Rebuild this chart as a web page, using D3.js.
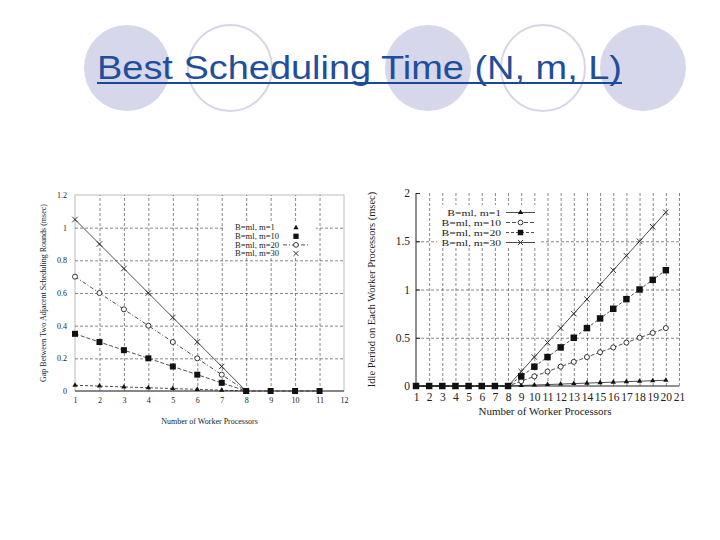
<!DOCTYPE html>
<html>
<head>
<meta charset="utf-8">
<script src="https://cdn.jsdelivr.net/npm/d3@7"></script>
<style>
  body { margin: 0; background: #fff; }
  text { font-family: "Liberation Serif", "DejaVu Serif", serif; fill: #222; }
</style>
</head>
<body>
<svg id="slide" width="720" height="540"></svg>
<script>
// left chart: gap between two adjacent scheduling rounds
const leftProcs = [1, 2, 3, 4, 5, 6, 7, 8, 9, 10, 11];
const leftM1 = [0.035, 0.03, 0.025, 0.02, 0.015, 0.01, 0.005, 0];
const leftM10 = [0.35, 0.3, 0.25, 0.2, 0.15, 0.1, 0.05, 0, 0, 0, 0];
const leftM20 = [0.7, 0.6, 0.5, 0.4, 0.3, 0.2, 0.1, 0];
const leftM30 = [1.05, 0.9, 0.75, 0.6, 0.45, 0.3, 0.15, 0];
const leftXTicks = [1, 2, 3, 4, 5, 6, 7, 8, 9, 10, 11, 12];
const leftYTicks = [0, 0.2, 0.4, 0.6, 0.8, 1, 1.2];

// right chart: idle period on each worker processor
const rightProcs = [1, 2, 3, 4, 5, 6, 7, 8, 9, 10, 11, 12, 13, 14, 15, 16, 17, 18, 19, 20];
const rightM1 = [0, 0, 0, 0, 0, 0, 0, 0, 0.005, 0.01, 0.015, 0.02, 0.025, 0.03, 0.035, 0.04, 0.045, 0.05, 0.055, 0.06];
const rightM10 = [0, 0, 0, 0, 0, 0, 0, 0, 0.05, 0.1, 0.15, 0.2, 0.25, 0.3, 0.35, 0.4, 0.45, 0.5, 0.55, 0.6];
const rightM20 = [0, 0, 0, 0, 0, 0, 0, 0, 0.1, 0.2, 0.3, 0.4, 0.5, 0.6, 0.7, 0.8, 0.9, 1.0, 1.1, 1.2];
const rightM30 = [0, 0, 0, 0, 0, 0, 0, 0, 0.15, 0.3, 0.45, 0.6, 0.75, 0.9, 1.05, 1.2, 1.35, 1.5, 1.65, 1.8];
const rightXTicks = d3.range(1, 22);
const rightYTicks = [0, 0.5, 1, 1.5, 2];

const seriesNames = ["B=ml, m=1", "B=ml, m=10", "B=ml, m=20", "B=ml, m=30"];

const svg = d3.select("#slide");
const numFormat = (d) => String(+d.toFixed(2));

// x marker, drawn as a stroke-only symbol
const symbolCross = {
  draw(context, size) {
    const r = Math.sqrt(size) / 2;
    context.moveTo(-r, -r);
    context.lineTo(r, r);
    context.moveTo(-r, r);
    context.lineTo(r, -r);
  },
};

const markerStyles = {
  triangle: { type: d3.symbolTriangle, fill: "#111", stroke: "none" },
  square: { type: d3.symbolSquare, fill: "#111", stroke: "none" },
  circle: { type: d3.symbolCircle, fill: "#fff", stroke: "#222" },
  cross: { type: symbolCross, fill: "none", stroke: "#222" },
};

// ---------- title band ----------
const circles = [
  { cx: 127, filled: true },
  { cx: 230, filled: false },
  { cx: 428, filled: true },
  { cx: 543, filled: false },
  { cx: 643, filled: true },
];
svg
  .selectAll(".deco")
  .data(circles)
  .join("ellipse")
  .attr("class", "deco")
  .attr("cx", (d) => d.cx)
  .attr("cy", 68)
  .attr("rx", (d) => (d.filled ? 43 : 42))
  .attr("ry", 43)
  .attr("fill", (d) => (d.filled ? "#d7d7ec" : "none"))
  .attr("stroke", (d) => (d.filled ? "none" : "#d5d5e8"))
  .attr("stroke-width", 2);

svg
  .append("text")
  .attr("x", 97)
  .attr("y", 79)
  .attr("textLength", 525)
  .attr("lengthAdjust", "spacingAndGlyphs")
  .style("font-family", "'Liberation Sans', Arial, sans-serif")
  .style("font-size", "34px")
  .style("fill", "#1f4f9c")
  .text("Best Scheduling Time (N, m, L)");

svg
  .append("line")
  .attr("x1", 97)
  .attr("x2", 622)
  .attr("y1", 83)
  .attr("y2", 83)
  .attr("stroke", "#1a4a94")
  .attr("stroke-width", 2);

// ---------- shared helpers ----------
function drawGrid(g, x, y, xVals, yVals) {
  const [x0, x1] = x.range();
  const [y0, y1] = y.range();
  g.append("g")
    .attr("class", "grid")
    .attr("transform", `translate(${x0},0)`)
    .call(d3.axisLeft(y).tickValues(yVals).tickSize(-(x1 - x0)).tickFormat(""));
  g.append("g")
    .attr("class", "grid")
    .attr("transform", `translate(0,${y0})`)
    .call(d3.axisBottom(x).tickValues(xVals).tickSize(-(y0 - y1)).tickFormat(""));
  g.selectAll(".grid .domain").remove();
  g.selectAll(".grid line")
    .attr("stroke", "#555")
    .attr("stroke-width", 0.7)
    .attr("stroke-dasharray", "3,2");
}

function drawSeries(g, x, y, procs, values, dash, marker, size) {
  const pts = values.map((v, i) => [procs[i], v]);
  g.append("path")
    .datum(pts)
    .attr("fill", "none")
    .attr("stroke", "#222")
    .attr("stroke-width", 0.8)
    .attr("stroke-dasharray", dash)
    .attr("d", d3.line().x((d) => x(d[0])).y((d) => y(d[1])));
  const st = markerStyles[marker];
  g.append("g")
    .selectAll("path")
    .data(pts)
    .join("path")
    .attr("transform", (d) => `translate(${x(d[0])},${y(d[1])})`)
    .attr("d", d3.symbol().type(st.type).size(size))
    .attr("fill", st.fill)
    .attr("stroke", st.stroke)
    .attr("stroke-width", 0.9);
}

function drawTickLabels(g, x, y, xVals, yVals, fontSize, xPad, yPad) {
  const [y0] = y.range();
  const [x0] = x.range();
  const ax = g
    .append("g")
    .attr("transform", `translate(0,${y0})`)
    .call(d3.axisBottom(x).tickValues(xVals).tickSize(0).tickPadding(xPad).tickFormat(d3.format("d")));
  const ay = g
    .append("g")
    .attr("transform", `translate(${x0},0)`)
    .call(d3.axisLeft(y).tickValues(yVals).tickSize(0).tickPadding(yPad).tickFormat(numFormat));
  [ax, ay].forEach((a) => {
    a.select(".domain").remove();
    a.selectAll("text")
      .style("font-family", "'Liberation Serif', serif")
      .style("font-size", fontSize + "px")
      .attr("fill", "#222");
  });
}

function drawMarker(g, marker, size, cx, cy) {
  const st = markerStyles[marker];
  g.append("path")
    .attr("transform", `translate(${cx},${cy})`)
    .attr("d", d3.symbol().type(st.type).size(size))
    .attr("fill", st.fill)
    .attr("stroke", st.stroke)
    .attr("stroke-width", 0.9);
}

// ---------- left chart ----------
const xL = d3.scaleLinear().domain([1, 12]).range([75, 344]);
const yL = d3.scaleLinear().domain([0, 1.2]).range([391, 195]);
const gL = svg.append("g");

gL.append("rect")
  .attr("x", xL(1))
  .attr("y", yL(1.2))
  .attr("width", xL(12) - xL(1))
  .attr("height", yL(0) - yL(1.2))
  .attr("fill", "#fff")
  .attr("stroke", "#aaa")
  .attr("stroke-width", 0.8);

drawGrid(gL, xL, yL, d3.range(2, 12), [0.2, 0.4, 0.6, 0.8, 1]);

// white legend panel over the grid
gL.append("rect")
  .attr("x", 225)
  .attr("y", 221)
  .attr("width", 91)
  .attr("height", 37)
  .attr("fill", "#fff");

gL.append("line")
  .attr("x1", xL(1))
  .attr("x2", xL(12))
  .attr("y1", yL(0))
  .attr("y2", yL(0))
  .attr("stroke", "#333")
  .attr("stroke-width", 1.2);

drawSeries(gL, xL, yL, leftProcs, leftM1, "3,2", "triangle", 12);
drawSeries(gL, xL, yL, leftProcs, leftM30, null, "cross", 30);
drawSeries(gL, xL, yL, leftProcs, leftM20, "4,2,1,2", "circle", 20);
drawSeries(gL, xL, yL, leftProcs, leftM10, "4,2", "square", 36);

drawTickLabels(gL, xL, yL, leftXTicks, leftYTicks, 8, 6, 8);

gL.append("text")
  .attr("x", (xL(1) + xL(12)) / 2)
  .attr("y", 424)
  .attr("text-anchor", "middle")
  .style("font-size", "8px")
  .text("Number of Worker Processors");

gL.append("text")
  .attr("transform", `translate(46,${(yL(0) + yL(1.2)) / 2}) rotate(-90)`)
  .attr("text-anchor", "middle")
  .style("font-size", "8px")
  .text("Gap Between Two Adjacent Scheduling Rounds (msec)");

// left legend: marker only except m=20 which shows its line
const legLMarkers = ["triangle", "square", "circle", "cross"];
const legLSizes = [12, 28, 18, 24];
seriesNames.forEach((name, i) => {
  const yy = 227.7 + i * 8.6;
  gL.append("text")
    .attr("transform", `translate(235,${yy + 2.7}) scale(1.18,1)`)
    .style("font-size", "7.3px")
    .text(name);
  if (i === 2) {
    gL.append("line")
      .attr("x1", 283)
      .attr("x2", 309)
      .attr("y1", yy)
      .attr("y2", yy)
      .attr("stroke", "#222")
      .attr("stroke-width", 0.8)
      .attr("stroke-dasharray", "4,2,1,2");
  }
  drawMarker(gL, legLMarkers[i], legLSizes[i], 296, yy);
});

// ---------- right chart ----------
const xR = d3.scaleLinear().domain([1, 21]).range([416, 679]);
const yR = d3.scaleLinear().domain([0, 2]).range([386, 193]);
const gR = svg.append("g");

drawGrid(gR, xR, yR, d3.range(2, 22), [0.5, 1, 1.5]);

// legend box hides grid behind it
gR.append("rect")
  .attr("x", 437)
  .attr("y", 205)
  .attr("width", 102)
  .attr("height", 43)
  .attr("fill", "#fff");

gR.append("line")
  .attr("x1", xR(1))
  .attr("x2", xR(1))
  .attr("y1", yR(0))
  .attr("y2", yR(2))
  .attr("stroke", "#222")
  .attr("stroke-width", 1);
gR.append("line")
  .attr("x1", xR(1))
  .attr("x2", xR(21))
  .attr("y1", yR(0))
  .attr("y2", yR(0))
  .attr("stroke", "#222")
  .attr("stroke-width", 1);
// small inner ticks on the y axis
gR.append("g")
  .attr("transform", `translate(${xR(1)},0)`)
  .call(d3.axisRight(yR).tickValues(rightYTicks).tickSize(4).tickFormat(""))
  .call((a) => a.select(".domain").remove())
  .selectAll("line")
  .attr("stroke", "#222");

drawSeries(gR, xR, yR, rightProcs, rightM1, null, "triangle", 12);
drawSeries(gR, xR, yR, rightProcs, rightM10, "4,2", "circle", 20);
drawSeries(gR, xR, yR, rightProcs, rightM30, null, "cross", 30);
drawSeries(gR, xR, yR, rightProcs, rightM20, "3,2", "square", 42);

drawTickLabels(gR, xR, yR, rightXTicks, rightYTicks, 11.5, 7, 6);

gR.append("text")
  .attr("x", 545)
  .attr("y", 415)
  .attr("text-anchor", "middle")
  .style("font-size", "11px")
  .text("Number of Worker Processors");

gR.append("text")
  .attr("transform", `translate(375,${(yR(0) + yR(2)) / 2}) rotate(-90)`)
  .attr("text-anchor", "middle")
  .style("font-size", "10.5px")
  .text("Idle Period on Each Worker Processors (msec)");

const legRMarkers = ["triangle", "circle", "square", "cross"];
const legRDash = [null, "4,2", "3,2", null];
const legRSizes = [12, 18, 30, 26];
seriesNames.forEach((name, i) => {
  const yy = 212.5 + i * 10;
  gR.append("text")
    .attr("transform", `translate(501,${yy + 3.2}) scale(1.35,1)`)
    .attr("text-anchor", "end")
    .style("font-size", "8.6px")
    .text(name);
  gR.append("line")
    .attr("x1", 506)
    .attr("x2", 535)
    .attr("y1", yy)
    .attr("y2", yy)
    .attr("stroke", "#222")
    .attr("stroke-width", 0.8)
    .attr("stroke-dasharray", legRDash[i]);
  drawMarker(gR, legRMarkers[i], legRSizes[i], 520.5, yy);
});
</script>
</body>
</html>
